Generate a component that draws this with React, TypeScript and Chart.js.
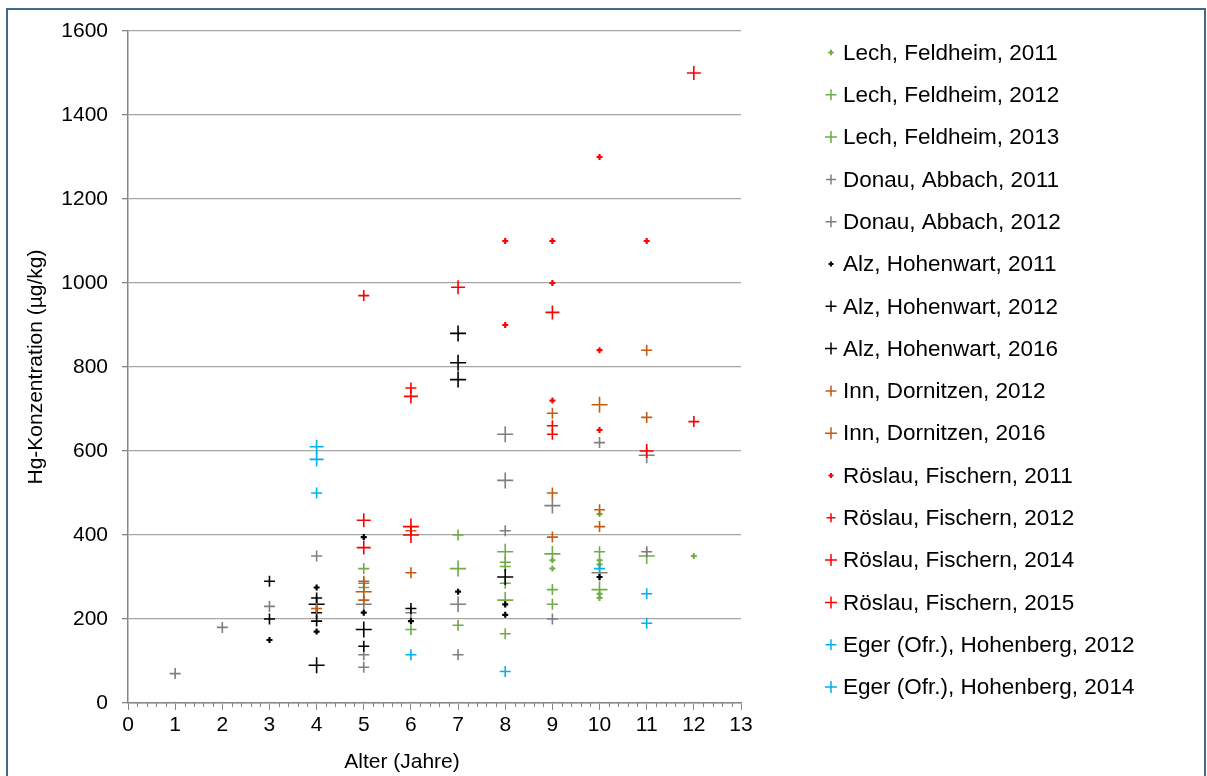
import React, { useEffect, useRef } from 'react';
import { Chart, registerables } from 'chart.js';

Chart.register(...registerables);

const FONT = '"Liberation Sans", Arial, Helvetica, sans-serif';
const AXIS_COLOR = '#868686';
const GRID_COLOR = '#A6A6A6';
const FRAME_COLOR = '#3F6A88';

const GREEN = '#6FAC46';
const GRAY = '#7F7F7F';
const BLACK = '#000000';
const ORANGE = '#C55A11';
const RED = '#FF0000';
const BLUE = '#00B0F0';

// Tick values
const xTickMin = 0;
const xTickMax = 13;
const yTickMin = 0;
const yTickMax = 1600;
const yTickStep = 200;

const xTitle = 'Alter (Jahre)';
const yTitle = 'Hg-Konzentration (µg/kg)';

// Series data: [Alter, Hg-Konzentration]
const lech2011 = [[9, 340], [9, 320], [10, 450], [10, 340], [10, 330], [10, 260], [10, 250], [12, 350]];
const lech2012 = [[5, 320], [5, 275], [6, 175], [7, 400], [7, 185], [8, 335], [8, 325], [8, 285], [8, 165], [9, 270], [9, 235], [10, 360]];
const lech2013 = [[7, 320], [8, 360], [8, 245], [9, 355], [10, 270], [11, 350]];
const donau2011 = [[1, 70], [2, 180], [3, 230], [4, 350], [5, 285], [5, 115], [5, 85], [6, 215], [7, 115], [8, 410], [9, 200], [10, 620], [11, 360]];
const donau2012 = [[5, 235], [7, 235], [8, 640], [8, 530], [9, 470], [10, 310], [11, 590]];
const alz2011 = [[3, 150], [4, 275], [4, 170], [5, 395], [5, 215], [6, 195], [7, 265], [8, 235], [8, 210], [10, 300]];
const alz2012 = [[3, 290], [3, 200], [4, 250], [4, 215], [4, 195], [5, 135], [6, 225]];
const alz2016 = [[4, 235], [4, 90], [5, 175], [7, 880], [7, 810], [7, 770], [8, 300]];
const inn2012 = [[4, 225], [5, 290], [5, 245], [6, 410], [6, 310], [9, 500], [9, 395], [9, 690], [10, 460], [10, 420], [11, 840], [11, 680]];
const inn2016 = [[5, 265], [10, 710]];
const roeslau2011 = [[8, 1100], [9, 1100], [11, 1100], [10, 1300], [9, 1000], [8, 900], [10, 840], [9, 720], [10, 650]];
const roeslau2012 = [[5, 970], [6, 750], [9, 660], [9, 640], [12, 670]];
const roeslau2014 = [[5, 435], [5, 370], [6, 730], [7, 990], [9, 930], [11, 600], [12, 1500]];
const roeslau2015 = [[6, 420], [6, 400]];
const eger2012 = [[4, 500], [6, 115], [8, 75], [10, 320], [11, 260], [11, 190]];
const eger2014 = [[4, 610], [4, 580]];

const seriesNames = [
  'Lech, Feldheim, 2011',
  'Lech, Feldheim, 2012',
  'Lech, Feldheim, 2013',
  'Donau, Abbach, 2011',
  'Donau, Abbach, 2012',
  'Alz, Hohenwart, 2011',
  'Alz, Hohenwart, 2012',
  'Alz, Hohenwart, 2016',
  'Inn, Dornitzen, 2012',
  'Inn, Dornitzen, 2016',
  'Röslau, Fischern, 2011',
  'Röslau, Fischern, 2012',
  'Röslau, Fischern, 2014',
  'Röslau, Fischern, 2015',
  'Eger (Ofr.), Hohenberg, 2012',
  'Eger (Ofr.), Hohenberg, 2014',
];
const seriesData = [
  lech2011, lech2012, lech2013, donau2011, donau2012, alz2011, alz2012, alz2016,
  inn2012, inn2016, roeslau2011, roeslau2012, roeslau2014, roeslau2015, eger2012, eger2014,
];
const seriesColors = [
  GREEN, GREEN, GREEN, GRAY, GRAY, BLACK, BLACK, BLACK,
  ORANGE, ORANGE, RED, RED, RED, RED, BLUE, BLUE,
];
const seriesRadius = [3, 5.5, 8, 5.5, 8, 3, 5.5, 8, 5.5, 8, 3, 5.5, 7, 8, 5.5, 7];
const seriesLineWidth = [2, 1.6, 1.6, 1.6, 1.6, 2.2, 1.6, 1.6, 1.6, 1.6, 2.2, 1.6, 1.6, 1.6, 1.6, 1.6];
const legendRadius = [2.7, 5.5, 6, 5, 5.5, 2.5, 5.5, 6, 5.5, 6, 2.5, 4.5, 6, 6, 5.5, 6];

const layoutPlugin = {
  id: 'customDecor',
  beforeDraw(chart: any) {
    const ctx = chart.ctx;
    ctx.save();
    ctx.fillStyle = '#FFFFFF';
    ctx.fillRect(0, 0, chart.width, chart.height);
    ctx.strokeStyle = FRAME_COLOR;
    ctx.lineWidth = 2;
    ctx.strokeRect(7, 9, 1198, 800);
    ctx.restore();
  },
  afterDraw(chart: any) {
    const ctx = chart.ctx;
    const xs = chart.scales.x;
    const ys = chart.scales.y;
    ctx.save();
    // minor ticks on x axis
    ctx.strokeStyle = AXIS_COLOR;
    ctx.lineWidth = 1;
    for (let i = xTickMin * 5; i <= xTickMax * 5; i++) {
      if (i % 5 === 0) continue;
      const px = Math.round(xs.getPixelForValue(i / 5)) + 0.5;
      ctx.beginPath();
      ctx.moveTo(px, ys.bottom);
      ctx.lineTo(px, ys.bottom + 4);
      ctx.stroke();
    }
    // axis titles
    ctx.fillStyle = '#000000';
    ctx.font = `21px ${FONT}`;
    ctx.textAlign = 'center';
    ctx.textBaseline = 'middle';
    ctx.fillText(xTitle, 402, 762);
    ctx.save();
    ctx.translate(36, (ys.top + ys.bottom) / 2);
    ctx.rotate(-Math.PI / 2);
    ctx.fillText(yTitle, 0, 0);
    ctx.restore();
    // legend
    ctx.font = `22.5px ${FONT}`;
    ctx.textAlign = 'left';
    ctx.textBaseline = 'middle';
    seriesNames.forEach((name, i) => {
      const cy = 52.5 + i * 42.3;
      const cx = 831;
      const r = legendRadius[i];
      ctx.strokeStyle = seriesColors[i];
      ctx.lineWidth = r < 3 ? 2 : 1.5;
      ctx.beginPath();
      ctx.moveTo(cx - r, cy);
      ctx.lineTo(cx + r, cy);
      ctx.moveTo(cx, cy - r);
      ctx.lineTo(cx, cy + r);
      ctx.stroke();
      ctx.fillStyle = '#000000';
      ctx.fillText(name, 843, cy + 1);
    });
    ctx.restore();
  },
};

export default function App() {
  const canvasRef = useRef<HTMLCanvasElement | null>(null);

  useEffect(() => {
    const canvas = canvasRef.current;
    if (!canvas) return;
    const datasets = seriesData.map((pts, i) => ({
      label: seriesNames[i],
      data: pts.map(([x, y]) => ({ x, y })),
      pointStyle: 'cross',
      pointRadius: seriesRadius[i],
      pointBorderWidth: seriesLineWidth[i],
      borderColor: seriesColors[i],
      backgroundColor: seriesColors[i],
      pointBorderColor: seriesColors[i],
      showLine: false,
      order: seriesData.length - i,
    }));
    const chart = new Chart(canvas, {
      type: 'scatter',
      data: { datasets },
      options: {
        animation: false,
        responsive: false,
        events: [],
        layout: { padding: { left: 0, top: 31, right: 466, bottom: 0 } },
        plugins: {
          legend: { display: false },
          tooltip: { enabled: false },
          title: { display: false },
        },
        scales: {
          x: {
            type: 'linear',
            min: xTickMin,
            max: xTickMax,
            ticks: {
              stepSize: 1,
              color: '#000000',
              font: { family: FONT, size: 21 },
              padding: 3,
              maxRotation: 0,
              autoSkip: false,
              callback: (v: any) => String(v),
            },
            grid: {
              drawOnChartArea: false,
              drawTicks: true,
              tickLength: 7,
              color: AXIS_COLOR,
              lineWidth: 1,
            },
            border: { color: AXIS_COLOR, width: 1.5 },
            afterFit(scale: any) {
              scale.height = 73;
            },
          },
          y: {
            type: 'linear',
            min: yTickMin,
            max: yTickMax,
            ticks: {
              stepSize: yTickStep,
              color: '#000000',
              font: { family: FONT, size: 21 },
              padding: 14,
              callback: (v: any) => String(v),
            },
            grid: {
              color: GRID_COLOR,
              lineWidth: 1.3,
              tickLength: 6,
              tickColor: AXIS_COLOR,
            },
            border: { color: AXIS_COLOR, width: 1.5 },
            afterFit(scale: any) {
              scale.width = 128;
            },
          },
        },
      },
      plugins: [layoutPlugin],
    });
    return () => chart.destroy();
  }, []);

  return (
    <div style={{ position: 'fixed', left: 0, top: 0, width: 1207, height: 776, background: '#fff' }}>
      <canvas ref={canvasRef} width={1207} height={776} style={{ width: 1207, height: 776, display: 'block' }} />
    </div>
  );
}
